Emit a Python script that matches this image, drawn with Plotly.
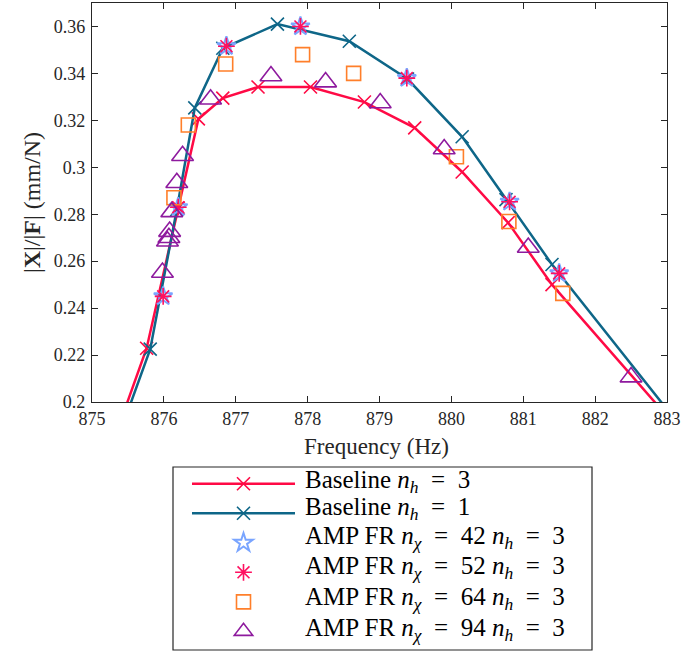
import plotly.graph_objects as go

# ---- data ----
freq_b3 = [875.40, 875.76, 876.20, 876.48, 876.82, 877.31, 878.04, 878.79, 879.49, 880.15, 880.79, 881.40, 883.00]
amp_b3 = [0.1920, 0.2229, 0.2826, 0.3206, 0.3295, 0.3342, 0.3342, 0.3278, 0.3168, 0.2980, 0.2764, 0.2500, 0.1940]

freq_b1 = [875.45, 875.81, 876.18, 876.43, 876.82, 877.58, 878.58, 879.39, 880.15, 880.76, 881.40, 883.10]
amp_b1 = [0.1920, 0.2225, 0.2820, 0.3253, 0.3507, 0.3610, 0.3537, 0.3376, 0.3130, 0.2862, 0.2586, 0.1930]

freq_n42 = [875.99, 876.20, 876.87, 877.90, 879.38, 880.81, 881.50]
amp_n42 = [0.2450, 0.2830, 0.3516, 0.3600, 0.3380, 0.2853, 0.2548]

freq_n52 = [875.99, 876.20, 876.87, 877.90, 879.38, 880.81, 881.50]
amp_n52 = [0.2450, 0.2830, 0.3516, 0.3600, 0.3380, 0.2853, 0.2548]

freq_n64 = [876.14, 876.34, 876.86, 877.93, 878.64, 880.07, 880.80, 881.55]
amp_n64 = [0.2870, 0.3180, 0.3440, 0.3480, 0.3400, 0.3045, 0.2769, 0.2463]

freq_n94 = [875.98, 876.05, 876.07, 876.08, 876.11, 876.18, 876.26, 876.65, 877.49, 878.25, 879.01, 879.90, 881.07, 882.50]
amp_n94 = [0.2552, 0.2685, 0.2700, 0.2726, 0.2810, 0.2934, 0.3049, 0.3290, 0.3389, 0.3363, 0.3274, 0.3078, 0.2658, 0.2106]

x_ticks = [875, 876, 877, 878, 879, 880, 881, 882, 883]
y_ticks = [0.2, 0.22, 0.24, 0.26, 0.28, 0.3, 0.32, 0.34, 0.36]
y_tick_text = ["0.2", "0.22", "0.24", "0.26", "0.28", "0.3", "0.32", "0.34", "0.36"]

E = "\u2002"
NH = "<i>n</i><sub><i>h</i></sub>"
NX = "<i>n</i><sub><i>χ</i></sub>"
legend_labels = [
    f"Baseline {NH}{E}={E}3",
    f"Baseline {NH}{E}={E}1",
    f"AMP FR {NX}{E}={E}42 {NH}{E}={E}3",
    f"AMP FR {NX}{E}={E}52 {NH}{E}={E}3",
    f"AMP FR {NX}{E}={E}64 {NH}{E}={E}3",
    f"AMP FR {NX}{E}={E}94 {NH}{E}={E}3",
]
x_title = "Frequency (Hz)"
y_title = "|<b>X</b>|/|<b>F</b>| (mm/N)"

RED = "#FF0A45"
TEAL = "#0E6688"
SERIF = "Liberation Serif, Times New Roman, serif"

fig = go.Figure()
fig.add_trace(go.Scatter(
    x=freq_b3, y=amp_b3, mode="lines+markers", name=" ",
    line=dict(color=RED, width=2.5),
    marker=dict(symbol="x-thin-open", size=13, line=dict(color=RED, width=1.6)),
))
fig.add_trace(go.Scatter(
    x=freq_b1, y=amp_b1, mode="lines+markers", name="  ",
    line=dict(color=TEAL, width=2.5),
    marker=dict(symbol="x-thin-open", size=13, line=dict(color=TEAL, width=1.6)),
))
fig.add_trace(go.Scatter(
    x=freq_n42, y=amp_n42, mode="markers", name="   ",
    marker=dict(symbol="star-open", size=14, color="#7AA5FF", line=dict(color="#7AA5FF", width=2)),
))
fig.add_trace(go.Scatter(
    x=freq_n52, y=amp_n52, mode="markers", name="    ",
    marker=dict(symbol="asterisk-open", size=14, color="#FF1060", line=dict(color="#FF1060", width=1.6)),
))
fig.add_trace(go.Scatter(
    x=freq_n64, y=amp_n64, mode="markers", name="     ",
    marker=dict(symbol="square-open", size=14, color="#FF7F2A", line=dict(color="#FF7F2A", width=1.6)),
))
fig.add_trace(go.Scatter(
    x=freq_n94, y=amp_n94, mode="markers", name="      ",
    marker=dict(symbol="triangle-up-open", size=19, color="#8E1A9E", line=dict(color="#8E1A9E", width=1.6)),
))

W, H = 681, 653
L, R, T, B = 92, 14, 3, 251
pw, ph = W - L - R, H - T - B

def px_x(p):
    return (p - L) / pw

def px_y(p):
    return (H - B - p) / ph

axis_common = dict(
    showline=True, linecolor="#262626", linewidth=1.2, mirror="ticks",
    ticks="inside", ticklen=6, tickcolor="#262626", tickwidth=1.2,
    showgrid=False, zeroline=False,
    tickfont=dict(family=SERIF, size=18, color="#262626"),
)

row_y = [482.7, 509.7, 538.7, 568.7, 599.3, 630.3]
annotations = [
    dict(text=lab, xref="paper", yref="paper", x=px_x(303), y=px_y(yy - 1),
         xanchor="left", yanchor="middle", showarrow=False,
         font=dict(family=SERIF, size=25, color="black"))
    for lab, yy in zip(legend_labels, row_y)
]
annotations.append(dict(
    text=x_title, xref="paper", yref="paper", x=px_x(376), y=px_y(446),
    xanchor="center", yanchor="middle", showarrow=False,
    font=dict(family=SERIF, size=23, color="#262626")))

fig.update_layout(
    width=W, height=H,
    margin=dict(l=L, r=R, t=T, b=B, autoexpand=False),
    paper_bgcolor="white", plot_bgcolor="white",
    font=dict(family=SERIF),
    xaxis=dict(range=[875, 883], tickvals=x_ticks, **axis_common),
    yaxis=dict(range=[0.2, 0.37], tickvals=y_ticks, ticktext=y_tick_text, ticklabelstandoff=2,
               title=dict(text=y_title, font=dict(family=SERIF, size=24, color="#262626"), standoff=6),
               **axis_common),
    legend=dict(
        x=px_x(187), y=px_y(464), xanchor="left", yanchor="top",
        font=dict(family=SERIF, size=20.4, color="black"),
        bgcolor="rgba(0,0,0,0)", borderwidth=0, tracegroupgap=0,
        itemwidth=103,
    ),
    showlegend=True,
    annotations=annotations,
    shapes=[dict(type="rect", xref="paper", yref="paper",
                 x0=px_x(173), x1=px_x(592), y0=px_y(650), y1=px_y(467),
                 line=dict(color="#262626", width=1.2), fillcolor="rgba(0,0,0,0)", layer="below")],
)

fig.write_html("out.html")
